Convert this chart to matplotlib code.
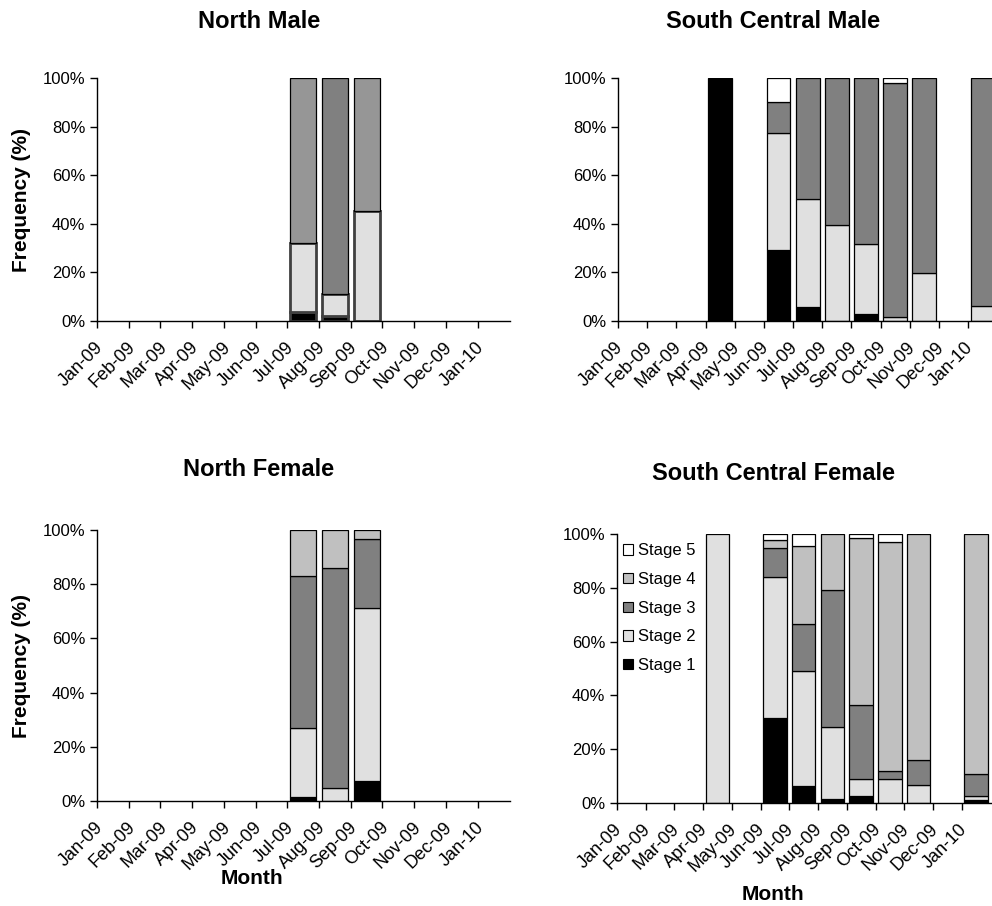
import matplotlib
matplotlib.use("Agg")
import matplotlib.pyplot as plt
import matplotlib.transforms as mtransforms
from matplotlib.patches import Patch

plt.rcParams['font.family'] = ['Liberation Sans', 'DejaVu Sans']

months = ['Jan-09', 'Feb-09', 'Mar-09', 'Apr-09', 'May-09', 'Jun-09', 'Jul-09',
          'Aug-09', 'Sep-09', 'Oct-09', 'Nov-09', 'Dec-09', 'Jan-10']
stages = ['Stage 1', 'Stage 2', 'Stage 3', 'Stage 4', 'Stage 5']

# frequency (%) per stage, one value per month
nm_s1 = [0, 0, 0, 0, 0, 0, 3.6, 2.2, 0, 0, 0, 0, 0]
nm_s2 = [0, 0, 0, 0, 0, 0, 28.4, 9.1, 45.2, 0, 0, 0, 0]
nm_s3 = [0, 0, 0, 0, 0, 0, 0, 88.7, 0, 0, 0, 0, 0]
nm_s4 = [0, 0, 0, 0, 0, 0, 68.0, 0, 54.8, 0, 0, 0, 0]
nm_s5 = [0] * 13

scm_s1 = [0, 0, 0, 100, 0, 29.3, 5.7, 0, 2.9, 0, 0, 0, 0]
scm_s2 = [0, 0, 0, 0, 0, 48.2, 44.4, 39.4, 28.9, 1.7, 19.6, 0, 6.1]
scm_s3 = [0, 0, 0, 0, 0, 12.5, 49.9, 60.6, 68.2, 96.1, 80.4, 0, 93.9]
scm_s4 = [0] * 13
scm_s5 = [0, 0, 0, 0, 0, 10.0, 0, 0, 0, 2.2, 0, 0, 0]

nf_s1 = [0, 0, 0, 0, 0, 0, 1.5, 0, 7.4, 0, 0, 0, 0]
nf_s2 = [0, 0, 0, 0, 0, 0, 25.6, 4.7, 63.7, 0, 0, 0, 0]
nf_s3 = [0, 0, 0, 0, 0, 0, 55.8, 81.2, 25.5, 0, 0, 0, 0]
nf_s4 = [0, 0, 0, 0, 0, 0, 17.1, 14.1, 3.4, 0, 0, 0, 0]
nf_s5 = [0] * 13

scf_s1 = [0, 0, 0, 0, 0, 31.7, 6.5, 1.5, 2.5, 0, 0, 0, 1.0]
scf_s2 = [0, 0, 0, 100, 0, 52.5, 42.6, 26.9, 6.3, 8.8, 6.7, 0, 1.5]
scf_s3 = [0, 0, 0, 0, 0, 10.5, 17.4, 50.9, 27.6, 3.1, 9.1, 0, 8.3]
scf_s4 = [0, 0, 0, 0, 0, 2.9, 29.2, 20.7, 62.2, 85.1, 84.2, 0, 89.2]
scf_s5 = [0, 0, 0, 0, 0, 2.4, 4.3, 0, 1.4, 3.0, 0, 0, 0]

colors = ['black', '#E0E0E0', '#808080', '#C0C0C0', 'white']
nm_colors = ['black', '#E0E0E0', '#808080', '#969696', 'white']

W, H = 992, 906


def px_rect(left, top, right, bottom):
    return [left / W, 1 - bottom / H, (right - left) / W, (bottom - top) / H]


def draw_panel(fig, rect, series, cols, heavy_low=False, legend=False):
    ax = fig.add_axes(rect)
    x = list(range(len(months)))
    bottom = [0] * len(months)
    for i, vals in enumerate(series):
        if heavy_low and i < 2:
            ec, lw = '#404040', 2.0
        else:
            ec, lw = 'black', 0.9
        b = ax.bar(x, vals, 0.82, bottom=bottom, color=cols[i], edgecolor=ec,
                   linewidth=lw)
        # hide empty segments
        for patch, v in zip(b.patches, vals):
            if v == 0:
                patch.set_visible(False)
        bottom = [a + v for a, v in zip(bottom, vals)]

    ax.set_xlim(-0.5, 12.5 + 0.02)
    ax.set_ylim(0, 100)
    ax.set_yticks(range(0, 101, 20))
    ax.set_yticklabels([f'{v}%' for v in range(0, 101, 20)], fontsize=12)
    ax.set_xticks([i - 0.5 for i in range(13)])
    ax.set_xticklabels([])
    ax.set_xticks(x, minor=True)
    ax.set_xticklabels(months, minor=True, rotation=45, ha='right', va='center',
                       rotation_mode='anchor', fontsize=13)
    ax.tick_params(axis='x', which='minor', length=0, pad=17)
    ax.tick_params(axis='both', which='major', length=5, width=1, direction='out')
    offset = mtransforms.ScaledTranslation(-12 / 100, 0, fig.dpi_scale_trans)
    for lbl in ax.get_xticklabels(minor=True):
        lbl.set_transform(lbl.get_transform() + offset)
    for side in ['top', 'right']:
        ax.spines[side].set_visible(False)
    for side in ['left', 'bottom']:
        ax.spines[side].set_linewidth(1)
    if legend:
        handles = [Patch(facecolor=cols[i], edgecolor='black', linewidth=0.8)
                   for i in range(4, -1, -1)]
        ax.legend(handles, stages[::-1], loc='upper left', frameon=False,
                  fontsize=12, handlelength=0.6, handleheight=0.6,
                  handletextpad=0.35, labelspacing=0.82, borderpad=0,
                  bbox_to_anchor=(0.015, 0.965), borderaxespad=0)
    return ax


def main():
    fig = plt.figure(figsize=(W / 100, H / 100), dpi=100)

    draw_panel(fig, px_rect(97, 78, 510, 321),
               [nm_s1, nm_s2, nm_s3, nm_s4, nm_s5], nm_colors, heavy_low=True)
    draw_panel(fig, px_rect(618, 78, 998, 321),
               [scm_s1, scm_s2, scm_s3, scm_s4, scm_s5], colors)
    draw_panel(fig, px_rect(97, 530, 510, 801),
               [nf_s1, nf_s2, nf_s3, nf_s4, nf_s5], colors)
    draw_panel(fig, px_rect(617, 534, 991, 803),
               [scf_s1, scf_s2, scf_s3, scf_s4, scf_s5], colors, legend=True)

    tkw = dict(fontsize=17, fontweight='bold', ha='center', va='center')
    fig.text(259 / W, 1 - 22 / H, 'North Male', **tkw)
    fig.text(773 / W, 1 - 22 / H, 'South Central Male', **tkw)
    fig.text(259 / W, 1 - 470 / H, 'North Female', **tkw)
    fig.text(773 / W, 1 - 474 / H, 'South Central Female', **tkw)

    lkw = dict(fontsize=15, fontweight='bold', ha='center', va='center')
    fig.text(22 / W, 1 - 200 / H, 'Frequency (%)', rotation=90, **lkw)
    fig.text(22 / W, 1 - 666 / H, 'Frequency (%)', rotation=90, **lkw)
    fig.text(252 / W, 1 - 878 / H, 'Month', **lkw)
    fig.text(773 / W, 1 - 894 / H, 'Month', **lkw)

    fig.savefig('out.png', dpi=100)
    plt.close(fig)


if __name__ == "__main__":
    main()
